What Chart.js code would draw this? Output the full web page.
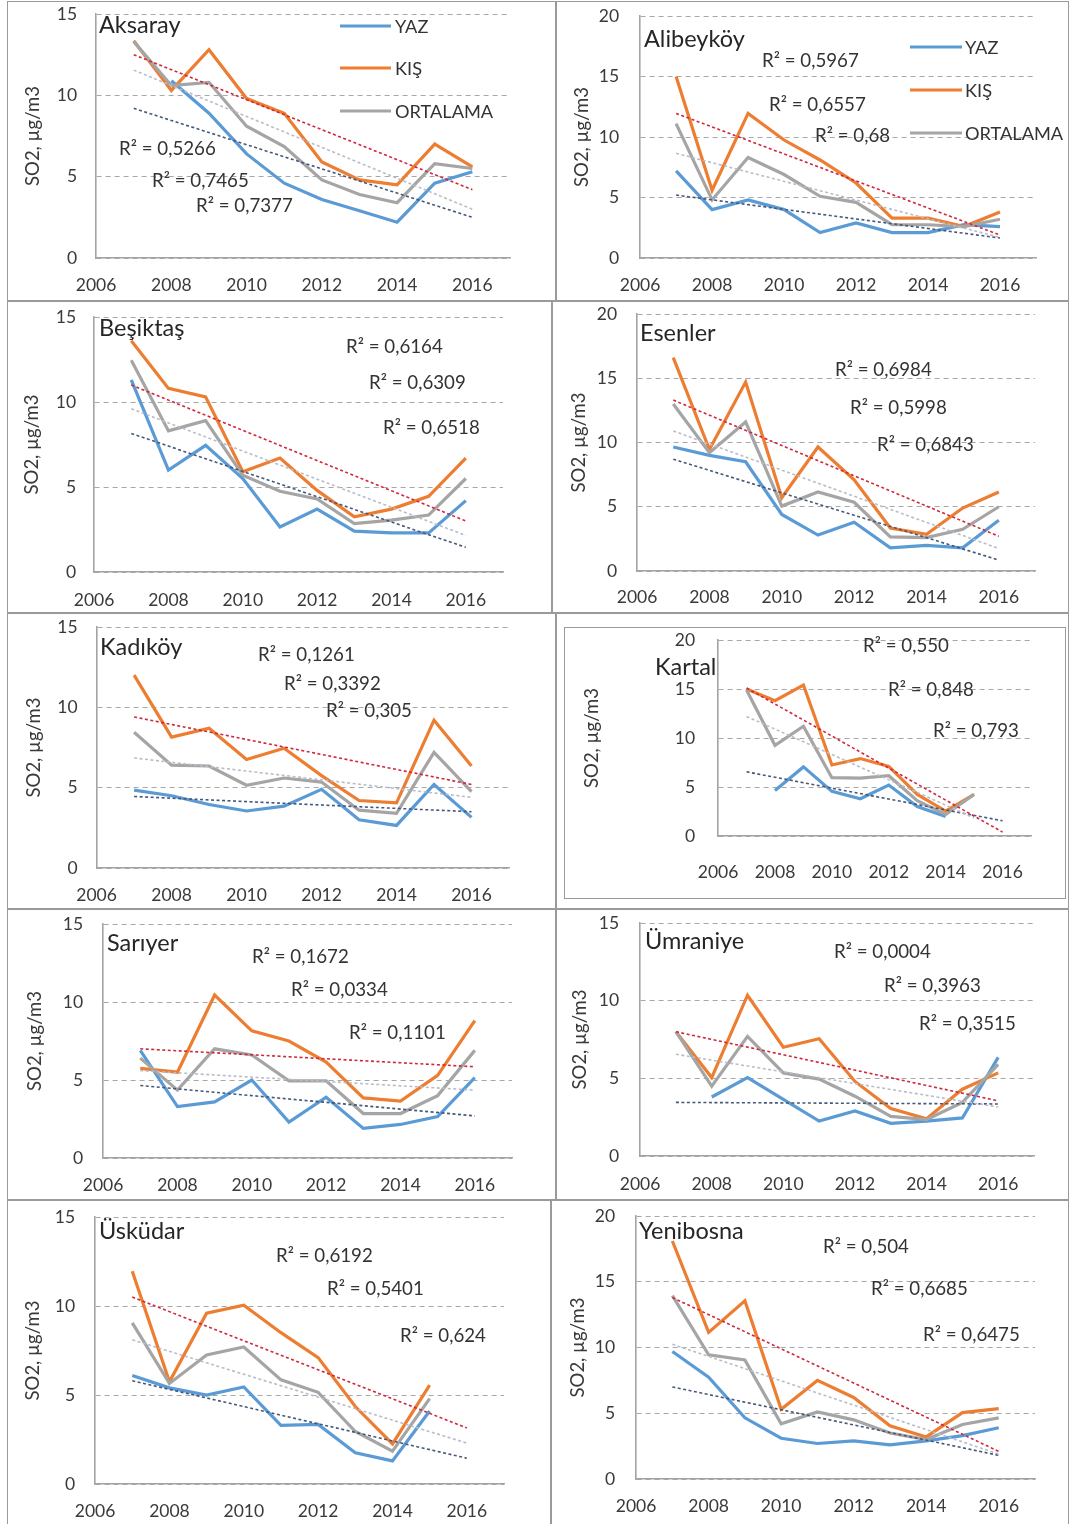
<!DOCTYPE html>
<html><head><meta charset="utf-8">
<script src="https://cdn.jsdelivr.net/npm/chart.js@4.4.1/dist/chart.umd.min.js"></script>
<style>
html,body{margin:0;padding:0;background:#fff;}
body{width:1070px;height:1524px;position:relative;overflow:hidden;font-family:Lato,"Open Sans",sans-serif;color:#333;}
.cell{position:absolute;border:1.5px solid #9a9a9a;box-sizing:border-box;}
canvas{position:absolute;}
.ttl{position:absolute;font-size:23.5px;line-height:1;color:#262626;white-space:nowrap;transform:translateY(-50%);}
.r2{position:absolute;font-size:18.7px;line-height:1;color:#333;white-space:nowrap;transform:translateY(-50%);}
.lg{position:absolute;font-size:18.2px;line-height:1;color:#333;white-space:nowrap;transform:translateY(-50%);}
.lgline{position:absolute;height:3px;transform:translateY(-50%);}
</style>
</head><body>
<script>
// ---------- DATA ----------
const years = [2007, 2008, 2009, 2010, 2011, 2012, 2013, 2014, 2015, 2016];
const xTickYears = [2006, 2008, 2010, 2012, 2014, 2016];
const seriesLabels = ['YAZ', 'KIŞ', 'ORTALAMA'];
const yAxisTitle = 'SO2, µg/m3';
const stationNames = ['Aksaray', 'Alibeyköy', 'Beşiktaş', 'Esenler', 'Kadıköy', 'Kartal', 'Sarıyer', 'Ümraniye', 'Üsküdar', 'Yenibosna'];
const yAxisMax = [15, 20, 15, 20, 15, 20, 15, 15, 15, 20];

const aksarayYaz = [null, 10.9, 8.9, 6.4, 4.6, 3.6, 2.9, 2.2, 4.6, 5.3];
const aksarayKis = [13.35, 10.3, 12.8, 9.8, 8.9, 5.9, 4.8, 4.5, 7.0, 5.6];
const aksarayOrt = [13.3, 10.6, 10.8, 8.1, 6.85, 4.8, 3.9, 3.4, 5.8, 5.5];
const aksarayTrendYaz = [[2007, 9.2], [2016, 2.5]];
const aksarayTrendKis = [[2007, 12.5], [2016, 4.2]];
const aksarayTrendOrt = [[2007, 11.55], [2016, 3.0]];
const aksarayR2 = ['R² = 0,5266', 'R² = 0,7465', 'R² = 0,7377'];

const alibeykoyYaz = [7.2, 4.0, 4.8, 4.0, 2.1, 2.9, 2.1, 2.1, 2.75, 2.6];
const alibeykoyKis = [15.0, 5.6, 11.95, 9.75, 8.1, 6.2, 3.3, 3.3, 2.6, 3.8];
const alibeykoyOrt = [11.1, 4.8, 8.3, 6.9, 5.1, 4.6, 2.75, 2.75, 2.6, 3.2];
const alibeykoyTrendYaz = [[2007, 5.2], [2016, 1.65]];
const alibeykoyTrendKis = [[2007, 11.95], [2016, 1.9]];
const alibeykoyTrendOrt = [[2007, 8.65], [2016, 1.7]];
const alibeykoyR2 = ['R² = 0,5967', 'R² = 0,6557', 'R² = 0,68'];

const besiktasYaz = [11.3, 6.0, 7.45, 5.5, 2.65, 3.7, 2.4, 2.3, 2.3, 4.2];
const besiktasKis = [13.6, 10.8, 10.3, 5.9, 6.7, 4.8, 3.25, 3.7, 4.45, 6.7];
const besiktasOrt = [12.45, 8.3, 8.9, 5.7, 4.75, 4.3, 2.85, 3.05, 3.35, 5.5];
const besiktasTrendYaz = [[2007, 8.15], [2016, 1.45]];
const besiktasTrendKis = [[2007, 11.0], [2016, 3.0]];
const besiktasTrendOrt = [[2007, 9.6], [2016, 2.15]];
const besiktasR2 = ['R² = 0,6164', 'R² = 0,6309', 'R² = 0,6518'];

const esenlerYaz = [9.65, 9.0, 8.5, 4.4, 2.8, 3.8, 1.8, 2.0, 1.8, 3.95];
const esenlerKis = [16.6, 9.45, 14.7, 5.7, 9.65, 7.1, 3.35, 2.85, 4.9, 6.15];
const esenlerOrt = [13.0, 9.2, 11.6, 5.05, 6.15, 5.35, 2.65, 2.6, 3.25, 5.0];
const esenlerTrendYaz = [[2007, 8.7], [2016, 0.85]];
const esenlerTrendKis = [[2007, 13.3], [2016, 2.7]];
const esenlerTrendOrt = [[2007, 10.9], [2016, 1.75]];
const esenlerR2 = ['R² = 0,6984', 'R² = 0,5998', 'R² = 0,6843'];

const kadikoyYaz = [4.85, 4.5, 3.95, 3.55, 3.85, 4.9, 3.0, 2.65, 5.2, 3.15];
const kadikoyKis = [12.0, 8.15, 8.7, 6.75, 7.45, 5.75, 4.2, 4.05, 9.2, 6.35];
const kadikoyOrt = [8.45, 6.4, 6.35, 5.15, 5.6, 5.35, 3.6, 3.4, 7.2, 4.75];
const kadikoyTrendYaz = [[2007, 4.45], [2016, 3.5]];
const kadikoyTrendKis = [[2007, 9.4], [2016, 5.2]];
const kadikoyTrendOrt = [[2007, 6.85], [2016, 4.4]];
const kadikoyR2 = ['R² = 0,1261', 'R² = 0,3392', 'R² = 0,305'];

const kartalYaz = [null, 4.65, 7.05, 4.55, 3.8, 5.2, 3.0, 2.0, null, null];
const kartalKis = [15.0, 13.8, 15.4, 7.25, 7.9, 7.1, 4.25, 2.55, 4.25, null];
const kartalOrt = [14.9, 9.25, 11.2, 5.95, 5.9, 6.15, 3.6, 2.2, 4.25, null];
const kartalTrendYaz = [[2007, 6.55], [2016, 1.55]];
const kartalTrendKis = [[2007, 15.1], [2016, 0.4]];
const kartalTrendOrt = [[2007, 12.2], [2015, 1.85]];
const kartalR2 = ['R² = 0,550', 'R² = 0,848', 'R² = 0,793'];

const sariyerYaz = [6.9, 3.3, 3.6, 5.0, 2.3, 3.9, 1.9, 2.15, 2.65, 5.15];
const sariyerKis = [5.75, 5.5, 10.45, 8.15, 7.5, 6.15, 3.85, 3.65, 5.3, 8.8];
const sariyerOrt = [6.4, 4.35, 7.0, 6.6, 4.95, 4.95, 2.85, 2.85, 4.0, 6.9];
const sariyerTrendYaz = [[2007, 4.65], [2016, 2.7]];
const sariyerTrendKis = [[2007, 7.0], [2016, 5.85]];
const sariyerTrendOrt = [[2007, 5.6], [2016, 4.35]];
const sariyerR2 = ['R² = 0,1672', 'R² = 0,0334', 'R² = 0,1101'];

const umraniyeYaz = [null, 3.8, 5.05, 3.65, 2.25, 2.9, 2.1, 2.25, 2.45, 6.35];
const umraniyeKis = [8.0, 5.05, 10.35, 7.0, 7.55, 4.8, 3.05, 2.4, 4.3, 5.35];
const umraniyeOrt = [8.0, 4.5, 7.7, 5.35, 4.95, 3.85, 2.55, 2.35, 3.45, 5.9];
const umraniyeTrendYaz = [[2007, 3.45], [2016, 3.35]];
const umraniyeTrendKis = [[2007, 8.0], [2016, 3.55]];
const umraniyeTrendOrt = [[2007, 6.55], [2016, 3.15]];
const umraniyeR2 = ['R² = 0,0004', 'R² = 0,3963', 'R² = 0,3515'];

const uskudarYaz = [6.1, 5.4, 5.0, 5.45, 3.3, 3.35, 1.75, 1.3, 4.1, null];
const uskudarKis = [11.95, 5.75, 9.6, 10.05, 8.5, 7.1, 4.35, 2.25, 5.55, null];
const uskudarOrt = [9.05, 5.65, 7.25, 7.7, 5.85, 5.15, 2.95, 1.85, 4.8, null];
const uskudarTrendYaz = [[2007, 5.8], [2016, 1.45]];
const uskudarTrendKis = [[2007, 10.5], [2016, 3.15]];
const uskudarTrendOrt = [[2007, 8.1], [2016, 2.3]];
const uskudarR2 = ['R² = 0,6192', 'R² = 0,5401', 'R² = 0,624'];

const yenibosnaYaz = [9.7, 7.75, 4.65, 3.1, 2.7, 2.9, 2.6, 2.9, 3.3, 3.9];
const yenibosnaKis = [18.1, 11.15, 13.55, 5.3, 7.5, 6.2, 4.05, 3.2, 5.05, 5.35];
const yenibosnaOrt = [13.95, 9.45, 9.05, 4.2, 5.1, 4.5, 3.5, 3.0, 4.15, 4.65];
const yenibosnaTrendYaz = [[2007, 7.0], [2016, 1.8]];
const yenibosnaTrendKis = [[2007, 13.8], [2016, 2.1]];
const yenibosnaTrendOrt = [[2007, 10.25], [2016, 1.9]];
const yenibosnaR2 = ['R² = 0,504', 'R² = 0,6685', 'R² = 0,6475'];

// table built from the arrays above
const stationData = [
  {yaz: aksarayYaz, kis: aksarayKis, ort: aksarayOrt, tYaz: aksarayTrendYaz, tKis: aksarayTrendKis, tOrt: aksarayTrendOrt, r2: aksarayR2},
  {yaz: alibeykoyYaz, kis: alibeykoyKis, ort: alibeykoyOrt, tYaz: alibeykoyTrendYaz, tKis: alibeykoyTrendKis, tOrt: alibeykoyTrendOrt, r2: alibeykoyR2},
  {yaz: besiktasYaz, kis: besiktasKis, ort: besiktasOrt, tYaz: besiktasTrendYaz, tKis: besiktasTrendKis, tOrt: besiktasTrendOrt, r2: besiktasR2},
  {yaz: esenlerYaz, kis: esenlerKis, ort: esenlerOrt, tYaz: esenlerTrendYaz, tKis: esenlerTrendKis, tOrt: esenlerTrendOrt, r2: esenlerR2},
  {yaz: kadikoyYaz, kis: kadikoyKis, ort: kadikoyOrt, tYaz: kadikoyTrendYaz, tKis: kadikoyTrendKis, tOrt: kadikoyTrendOrt, r2: kadikoyR2},
  {yaz: kartalYaz, kis: kartalKis, ort: kartalOrt, tYaz: kartalTrendYaz, tKis: kartalTrendKis, tOrt: kartalTrendOrt, r2: kartalR2},
  {yaz: sariyerYaz, kis: sariyerKis, ort: sariyerOrt, tYaz: sariyerTrendYaz, tKis: sariyerTrendKis, tOrt: sariyerTrendOrt, r2: sariyerR2},
  {yaz: umraniyeYaz, kis: umraniyeKis, ort: umraniyeOrt, tYaz: umraniyeTrendYaz, tKis: umraniyeTrendKis, tOrt: umraniyeTrendOrt, r2: umraniyeR2},
  {yaz: uskudarYaz, kis: uskudarKis, ort: uskudarOrt, tYaz: uskudarTrendYaz, tKis: uskudarTrendKis, tOrt: uskudarTrendOrt, r2: uskudarR2},
  {yaz: yenibosnaYaz, kis: yenibosnaKis, ort: yenibosnaOrt, tYaz: yenibosnaTrendYaz, tKis: yenibosnaTrendKis, tOrt: yenibosnaTrendOrt, r2: yenibosnaR2}
];

// ---------- LAYOUT (positions / styles only) ----------
const cells = [
  [7, 1, 556, 301], [556, 1, 1069, 301],
  [7, 301, 552, 613], [552, 301, 1069, 613],
  [7, 613, 556, 909], [556, 613, 1069, 909],
  [7, 909, 556, 1200], [556, 909, 1069, 1200],
  [7, 1200, 551, 1530], [551, 1200, 1069, 1530],
  [564, 627, 1066, 899]
];
// ax: pixel of 2006, ae: pixel of 2017, yt: pixel of max, yb: pixel of 0, tx: y-title centre, xpad/ypad: tick padding
const geo = [
  {ax: 96, ae: 510, yt: 14, yb: 258, tx: 33, xpad: 16.5, ypad: 19},
  {ax: 640, ae: 1036, yt: 15.7, yb: 258, tx: 582, xpad: 16.5, ypad: 21},
  {ax: 94, ae: 503, yt: 316.7, yb: 571.7, tx: 32, xpad: 17.5, ypad: 18},
  {ax: 637, ae: 1035, yt: 314.3, yb: 571.7, tx: 579, xpad: 15.5, ypad: 20},
  {ax: 96.5, ae: 509, yt: 627, yb: 868, tx: 34, xpad: 16.5, ypad: 19},
  {ax: 718, ae: 1031, yt: 639.7, yb: 835.3, tx: 592, xpad: 25.5, ypad: 23},
  {ax: 103, ae: 511.6, yt: 923.7, yb: 1157.3, tx: 35, xpad: 16.5, ypad: 20},
  {ax: 640, ae: 1034, yt: 923, yb: 1156.3, tx: 580, xpad: 17.5, ypad: 21},
  {ax: 95, ae: 503.5, yt: 1217, yb: 1484, tx: 33, xpad: 16.5, ypad: 20},
  {ax: 636, ae: 1035, yt: 1216.3, yb: 1479, tx: 578, xpad: 16.5, ypad: 21}
];
const titlePos = [[99, 25], [644, 39], [99, 328], [640, 333], [100, 647], [655, 667], [107, 943], [645, 941], [99, 1231], [639, 1231]];
const r2Pos = [
  [[119, 148], [152, 180], [196, 205]],
  [[762, 60], [769, 104], [815, 135]],
  [[346, 346], [369, 382], [383, 427]],
  [[835, 369], [850, 407], [877, 444]],
  [[258, 654], [284, 683], [326, 710]],
  [[863, 645], [888, 689], [933, 730]],
  [[252, 956], [291, 989], [349, 1032]],
  [[834, 951], [884, 985], [919, 1023]],
  [[276, 1255], [327, 1288], [400, 1335]],
  [[823, 1246], [871, 1288], [923, 1334]]
];
const legendPos = {0: {x: 340, w: 51, tx: 395, ys: [26, 68, 111]}, 1: {x: 910, w: 52, tx: 965, ys: [47, 90, 133]}};

const COL = {yaz: '#5B9BD5', kis: '#ED7D31', ort: '#A5A5A5', tYaz: '#46587a', tKis: '#d0283a', tOrt: '#b9bccb'};
const FONT = 'Lato, "Open Sans", sans-serif';
Chart.defaults.font.family = FONT;

function el(cls, css, text) {
  const d = document.createElement('div');
  d.className = cls;
  Object.assign(d.style, css);
  if (text !== undefined) d.textContent = text;
  document.body.appendChild(d);
  return d;
}

cells.forEach(([x1, y1, x2, y2]) => el('cell', {left: x1 + 'px', top: y1 + 'px', width: (x2 - x1) + 'px', height: (y2 - y1) + 'px'}));

const YTITLE_SIZE = 18.5;
const TITLE_LH = YTITLE_SIZE * 1.2;
function pts(vals) { return years.map((yr, i) => ({x: yr, y: vals[i]})); }
function tpts(arr) { return arr.map(p => ({x: p[0], y: p[1]})); }

stationData.forEach((s, i) => {
  const g = geo[i];
  const yW = g.ax - g.tx + TITLE_LH / 2;
  const left = g.ax - yW;
  const top = g.yt - 12;
  const w = g.ae - left + 8;
  const h = g.yb - top + 45;
  const cv = document.createElement('canvas');
  cv.width = Math.round(w); cv.height = Math.round(h);
  cv.style.left = left + 'px'; cv.style.top = top + 'px';
  cv.style.width = Math.round(w) + 'px'; cv.style.height = Math.round(h) + 'px';
  document.body.appendChild(cv);
  const trend = (data, color) => ({data: tpts(data), borderColor: color, borderWidth: 1.6, borderDash: [3, 2.5], pointRadius: 0, fill: false});
  const line = (label, data, color) => ({label, data: pts(data), borderColor: color, borderWidth: 3.2, pointRadius: 0, fill: false, borderJoinStyle: 'miter'});
  new Chart(cv.getContext('2d'), {
    type: 'line',
    data: {datasets: [
      trend(s.tKis, COL.tKis), trend(s.tOrt, COL.tOrt), trend(s.tYaz, COL.tYaz),
      line(seriesLabels[2], s.ort, COL.ort), line(seriesLabels[1], s.kis, COL.kis), line(seriesLabels[0], s.yaz, COL.yaz)
    ]},
    options: {
      responsive: false, animation: false, devicePixelRatio: 1,
      layout: {padding: {top: 12, right: 8, left: 0, bottom: 0}},
      plugins: {legend: {display: false}, tooltip: {enabled: false}},
      elements: {line: {tension: 0}},
      scales: {
        x: {
          type: 'linear', min: 2006, max: 2017,
          afterBuildTicks: sc => { sc.ticks = xTickYears.map(v => ({value: v})); },
          afterFit: sc => { sc.height = 45; sc.paddingLeft = 0; sc.paddingRight = 0; },
          grid: {display: false, drawTicks: false},
          border: {display: true, color: '#a3a3a3', width: 1.6},
          ticks: {padding: g.xpad, autoSkip: false, maxRotation: 0, color: '#3a3a3a', font: {size: 17.5}, callback: v => String(v)}
        },
        y: {
          type: 'linear', min: 0, max: yAxisMax[i],
          afterFit: sc => { sc.width = yW; sc.paddingTop = 0; sc.paddingBottom = 0; },
          grid: {color: '#a8a8a8', lineWidth: 1, drawTicks: false},
          border: {display: true, color: '#a3a3a3', width: 1.6, dash: [5, 4]},
          ticks: {stepSize: 5, padding: g.ypad, color: '#3a3a3a', font: {size: 17.5}},
          title: {display: true, text: yAxisTitle, padding: 0, color: '#3a3a3a', font: {size: YTITLE_SIZE}}
        }
      }
    }
  });
  const [tx, ty] = titlePos[i];
  el('ttl', {left: tx + 'px', top: ty + 'px'}, stationNames[i]);
  s.r2.forEach((txt, k) => {
    const [rx, ry] = r2Pos[i][k];
    el('r2', {left: rx + 'px', top: ry + 'px'}, txt);
  });
  const lp = legendPos[i];
  if (lp) {
    const cols = [COL.yaz, COL.kis, COL.ort];
    seriesLabels.forEach((lab, k) => {
      el('lgline', {left: lp.x + 'px', top: lp.ys[k] + 'px', width: lp.w + 'px', background: cols[k]});
      el('lg', {left: lp.tx + 'px', top: lp.ys[k] + 'px'}, lab);
    });
  }
});
</script>
</body></html>
